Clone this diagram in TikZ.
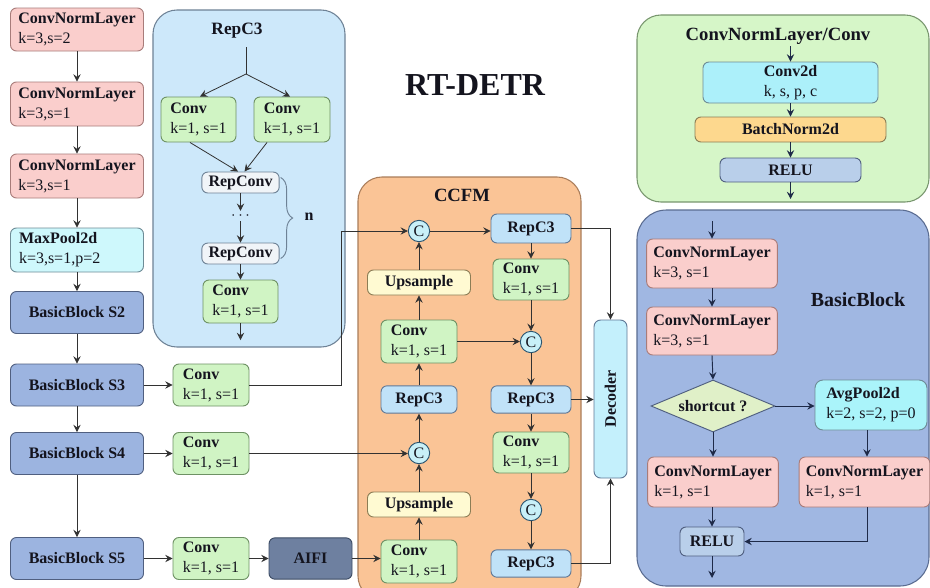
\documentclass[tikz,border=0pt]{standalone}
\usepackage{fontspec}
\setmainfont{Liberation Serif}
\usetikzlibrary{arrows.meta,shapes.geometric,calc,decorations.pathreplacing}

\definecolor{pinkF}{RGB}{250,206,204}
\definecolor{pinkD}{RGB}{168,124,122}
\definecolor{greenF}{RGB}{208,244,196}
\definecolor{greenD}{RGB}{110,145,100}
\definecolor{cyanF}{RGB}{206,248,252}
\definecolor{cyanD}{RGB}{110,140,150}
\definecolor{blueF}{RGB}{156,180,224}
\definecolor{blueD}{RGB}{80,95,128}
\definecolor{aifiF}{RGB}{110,128,160}
\definecolor{aifiD}{RGB}{60,75,100}
\definecolor{repPanelF}{RGB}{205,232,250}
\definecolor{repPanelD}{RGB}{110,130,150}
\definecolor{repConvF}{RGB}{240,244,248}
\definecolor{ccfmF}{RGB}{250,196,150}
\definecolor{ccfmD}{RGB}{170,125,90}
\definecolor{upF}{RGB}{255,250,210}
\definecolor{upD}{RGB}{140,125,85}
\definecolor{rcF}{RGB}{192,226,248}
\definecolor{rcD}{RGB}{95,120,150}
\definecolor{cF}{RGB}{200,240,248}
\definecolor{cD}{RGB}{43,85,112}
\definecolor{decF}{RGB}{196,240,252}
\definecolor{gPanelF}{RGB}{214,246,200}
\definecolor{gPanelD}{RGB}{120,150,110}
\definecolor{c2dF}{RGB}{172,240,250}
\definecolor{bnF}{RGB}{253,216,142}
\definecolor{reluF}{RGB}{185,207,234}
\definecolor{bbPanelF}{RGB}{160,183,226}
\definecolor{bbPanelD}{RGB}{90,108,145}
\definecolor{avgF}{RGB}{170,244,250}
\definecolor{diaF}{RGB}{224,240,200}
\definecolor{lineC}{RGB}{50,50,50}
\definecolor{navyC}{RGB}{30,42,72}
\definecolor{txtC}{RGB}{20,20,30}

\tikzset{
  box/.style={draw, rounded corners=4.5pt, line width=0.7pt, text=txtC,
    font=\fontsize{12}{15}\selectfont, inner sep=0pt, inner xsep=5pt},
  lbox/.style={box, align=left},
  cbox/.style={box, align=center, font=\fontsize{12}{15}\selectfont\bfseries},
  pinkbox/.style={lbox, fill=pinkF, draw=pinkD},
  greenbox/.style={lbox, fill=greenF, draw=greenD},
  cyanbox/.style={lbox, fill=cyanF, draw=cyanD},
  sbox/.style={cbox, fill=blueF, draw=blueD, minimum width=99.75pt, minimum height=31.5pt},
  panel/.style={draw, line width=0.8pt, rounded corners=18pt, inner sep=0pt},
  ptitle/.style={font=\fontsize{14}{16}\selectfont\bfseries, text=txtC, inner sep=1pt},
  cnode/.style={circle, draw=cD, fill=cF, line width=0.7pt, minimum size=16pt, inner sep=0pt,
    font=\fontsize{12}{14}\selectfont, text=txtC},
  rcbox/.style={cbox, fill=rcF, draw=rcD, minimum width=60pt, minimum height=20.5pt},
  upbox/.style={cbox, fill=upF, draw=upD, minimum width=77.25pt, minimum height=18.75pt},
  arr/.style={draw=lineC, line width=0.6pt, -{Stealth[length=5.5pt,width=5.5pt,inset=2pt]}},
  narr/.style={draw=navyC, line width=0.7pt, -{Stealth[length=5.5pt,width=5.5pt,inset=2pt]}},
  plain/.style={draw=lineC, line width=0.6pt},
}

\begin{document}
\begin{tikzpicture}[x=0.75pt, y=-0.75pt]
\fill[white] (0,0) rectangle (930,587);
\useasboundingbox (0,0) rectangle (930,587);

% ---------------- panels ----------------
\node[panel, fill=repPanelF, draw=repPanelD, minimum width=144pt, minimum height=252.75pt] (repPanel) at (249,178.5) {};
\node[panel, fill=ccfmF, draw=ccfmD, minimum width=167.25pt, minimum height=317.25pt] (ccfmPanel) at (469.5,388.5) {};
\node[panel, fill=gPanelF, draw=gPanelD, minimum width=219pt, minimum height=140.25pt] (gPanel) at (783,108.5) {};
\node[panel, fill=bbPanelF, draw=bbPanelD, rounded corners=22pt, minimum width=219pt, minimum height=282pt] (bbPanel) at (783,398) {};

% ---------------- title ----------------
\node[font=\fontsize{24}{28}\selectfont\bfseries, text=txtC] (mainT) at (475,85) {RT-DETR};

% ---------------- backbone ----------------
\node[pinkbox, minimum width=99.75pt, minimum height=32.25pt] (cnl1) at (77,29.5) {\textbf{ConvNormLayer}\\k=3,s=2};
\node[pinkbox, minimum width=99.75pt, minimum height=33pt] (cnl2) at (77,104) {\textbf{ConvNormLayer}\\k=3,s=1};
\node[pinkbox, minimum width=99.75pt, minimum height=33pt] (cnl3) at (77,176) {\textbf{ConvNormLayer}\\k=3,s=1};
\node[cyanbox, minimum width=99.75pt, minimum height=33pt, text width=87pt] (maxp) at (77,250) {\textbf{MaxPool2d}\\k=3,s=1,p=2};
\node[sbox] (s2) at (77,312.5) {BasicBlock S2};
\node[sbox] (s3) at (77,385) {BasicBlock S3};
\node[sbox] (s4) at (77,453.5) {BasicBlock S4};
\node[sbox] (s5) at (77,558.5) {BasicBlock S5};

\node[greenbox, minimum width=57pt, minimum height=31.5pt] (cv3) at (211,385) {\textbf{Conv}\\k=1, s=1};
\node[greenbox, minimum width=57pt, minimum height=31.5pt] (cv4) at (211,453.5) {\textbf{Conv}\\k=1, s=1};
\node[greenbox, minimum width=57pt, minimum height=31.5pt] (cv5) at (211,558.5) {\textbf{Conv}\\k=1, s=1};
\node[cbox, fill=aifiF, draw=aifiD, minimum width=62.25pt, minimum height=31pt] (aifi) at (310.5,558.5) {AIFI};

\draw[arr] (cnl1.south) -- (cnl2.north);
\draw[arr] (cnl2.south) -- (cnl3.north);
\draw[arr] (cnl3.south) -- (maxp.north);
\draw[arr] (maxp.south) -- (s2.north);
\draw[arr] (s2.south) -- (s3.north);
\draw[arr] (s3.south) -- (s4.north);
\draw[arr] (s4.south) -- (s5.north);
\draw[arr] (s3.east) -- (cv3.west);
\draw[arr] (s4.east) -- (cv4.west);
\draw[arr] (s5.east) -- (cv5.west);
\draw[arr] (cv5.east) -- (aifi.west);

% ---------------- RepC3 panel ----------------
\node[ptitle, font=\fontsize{13}{15}\selectfont\bfseries] (repT) at (237,31) {RepC3};
\coordinate (sp0) at (246,47);
\coordinate (sp1) at (246,74);
\node[greenbox, minimum width=56.25pt, minimum height=33.75pt] (convL) at (198.5,119.5) {\textbf{Conv}\\k=1, s=1};
\node[greenbox, minimum width=57pt, minimum height=33.75pt] (convR) at (292,119.5) {\textbf{Conv}\\k=1, s=1};
\node[cbox, fill=repConvF, draw=repPanelD, minimum width=56.25pt, minimum height=15.75pt] (rc1) at (240.5,182.5) {RepConv};
\node[font=\fontsize{12}{14}\selectfont\bfseries, text=txtC, inner sep=1pt] (dots) at (240.5,216) {$\cdots$};
\node[cbox, fill=repConvF, draw=repPanelD, minimum width=56.25pt, minimum height=15.75pt] (rc2) at (240.5,253.5) {RepConv};
\node[greenbox, minimum width=56.25pt, minimum height=32.25pt] (convB) at (240.5,301.5) {\textbf{Conv}\\k=1, s=1};
\coordinate (repOut) at (240.5,340);
\node[font=\fontsize{12}{14}\selectfont\bfseries, text=txtC, inner sep=1pt] (nlab) at (309,217) {n};

\draw[plain] (sp0) -- (sp1);
\draw[arr] (sp1) -- ($(convL.north)+(1.5,0)$);
\draw[arr] (sp1) -- ($(convR.north)+(-2,0)$);
\draw[arr] ($(convL.south)+(-8.5,0)$) -- ($(rc1.north)+(-2.5,0)$);
\draw[arr] ($(convR.south)+(-25,0)$) -- ($(rc1.north)+(4,0)$);
\draw[arr] (rc1.south) -- (dots.north);
\draw[arr] (dots.south) -- (rc2.north);
\draw[arr] (rc2.south) -- (convB.north);
\draw[arr] (convB.south) -- (repOut);
\draw[draw=repPanelD, line width=0.7pt, decorate, decoration={brace, amplitude=9pt, aspect=0.5}] ($(rc1.east)+(1,-5)$) -- ($(rc2.east)+(1,5)$);

% ---------------- CCFM ----------------
\node[ptitle] (ccfmT) at (462,195) {CCFM};
\node[cnode] (c1) at (419,231) {C};
\node[cnode] (c2) at (419,453) {C};
\node[cnode] (c3) at (531,342) {C};
\node[cnode] (c4) at (531,510) {C};
\node[rcbox, minimum height=21.75pt] (rcTop) at (531,228.5) {RepC3};
\node[upbox] (upTop) at (419,282.5) {Upsample};
\node[greenbox, minimum width=57pt, minimum height=32.25pt] (convM) at (419,341.5) {\textbf{Conv}\\k=1, s=1};
\node[rcbox, minimum width=57pt] (rcL) at (419,399.5) {RepC3};
\node[upbox] (upBot) at (419,504.5) {Upsample};
\node[greenbox, minimum width=57pt, minimum height=32.25pt] (convBL) at (419,561.5) {\textbf{Conv}\\k=1, s=1};
\node[greenbox, minimum width=57pt, minimum height=30.75pt] (convR1) at (531,279.5) {\textbf{Conv}\\k=1, s=1};
\node[rcbox] (rcR2) at (531,399.5) {RepC3};
\node[greenbox, minimum width=57pt, minimum height=30.75pt] (convR2) at (531,452.5) {\textbf{Conv}\\k=1, s=1};
\node[rcbox] (rcR3) at (531,563.5) {RepC3};
\node[cbox, fill=decF, draw=rcD, minimum width=24.75pt, minimum height=118.5pt, rounded corners=5pt] (dec) at (610.5,399) {\rotatebox{90}{Decoder}};

\coordinate (k1) at (341,231);
\draw[arr] (cv3.east) -| (k1) -- (c1.west);
\draw[arr] (cv4.east) -- (cv4.east -| c2.west);
\draw[arr] (aifi.east) -- (aifi.east -| convBL.west);
\draw[arr] (convBL.north) -- (upBot.south);
\draw[arr] (upBot.north) -- (c2.south);
\draw[arr] (c2.north) -- (rcL.south);
\draw[arr] (rcL.north) -- (convM.south);
\draw[arr] (convM.north) -- (upTop.south);
\draw[arr] (upTop.north) -- (c1.south);
\draw[arr] (c1.east) -- (c1.east -| rcTop.west);
\draw[arr] (convM.east) -- (convM.east -| c3.west);
\draw[arr] (rcTop.south) -- (convR1.north);
\draw[arr] (convR1.south) -- (c3.north);
\draw[arr] (c3.south) -- (rcR2.north);
\draw[arr] (rcR2.south) -- (convR2.north);
\draw[arr] (convR2.south) -- (c4.north);
\draw[arr] (c4.south) -- (rcR3.north);
\draw[arr] (rcTop.east) -| (dec.north);
\draw[arr] (rcR2.east) -- (rcR2.east -| dec.west);
\draw[arr] (rcR3.east) -| (dec.south);

% ---------------- ConvNormLayer/Conv ----------------
\node[ptitle] (gT) at (778,36) {ConvNormLayer/Conv};
\coordinate (g0) at (790.5,46);
\node[box, align=center, fill=c2dF, draw=cyanD, minimum width=131.25pt, minimum height=30.75pt] (conv2d) at (790.5,82.5) {\textbf{Conv2d}\\k, s, p, c};
\node[cbox, fill=bnF, draw=upD, minimum width=143.25pt, minimum height=18.75pt] (bn) at (790.5,129.5) {BatchNorm2d};
\node[cbox, fill=reluF, draw=blueD, minimum width=105.75pt, minimum height=18pt] (relu1) at (790.5,170) {RELU};
\coordinate (g1) at (790.5,199);
\draw[narr] (g0) -- (conv2d.north);
\draw[narr] (conv2d.south) -- (bn.north);
\draw[narr] (bn.south) -- (relu1.north);
\draw[narr] (relu1.south) -- (g1);

% ---------------- BasicBlock ----------------
\node[ptitle, font=\fontsize{15}{17}\selectfont\bfseries] (bbT) at (858,300) {BasicBlock};
\coordinate (b0) at (712,221);
\node[pinkbox, minimum width=97.5pt, minimum height=36.75pt] (cnlA) at (712,263.5) {\textbf{ConvNormLayer}\\k=3, s=1};
\node[pinkbox, minimum width=97.5pt, minimum height=36pt] (cnlB) at (712,331) {\textbf{ConvNormLayer}\\k=3, s=1};
\node[diamond, draw=blueD, fill=diaF, line width=0.7pt, minimum width=93pt, minimum height=39pt, inner sep=0pt, aspect=2.4,
  font=\fontsize{12}{14}\selectfont\bfseries, text=txtC] (dia) at (713,406) {shortcut ?};
\node[box, align=left, fill=avgF, draw=cyanD, minimum width=84pt, minimum height=37.5pt, rounded corners=6pt] (avg) at (871,405) {\textbf{AvgPool2d}\\k=2, s=2, p=0};
\node[pinkbox, minimum width=97.5pt, minimum height=37.5pt] (cnlC) at (713,482) {\textbf{ConvNormLayer}\\k=1, s=1};
\node[pinkbox, minimum width=96.75pt, minimum height=37.5pt] (cnlD) at (864.5,482) {\textbf{ConvNormLayer}\\k=1, s=1};
\node[cbox, fill=reluF, draw=blueD, minimum width=48pt, minimum height=21.75pt] (relu2) at (712,541.5) {RELU};
\coordinate (b1) at (712,578);

\draw[narr] (b0) -- (cnlA.north);
\draw[narr] (cnlA.south) -- (cnlB.north);
\draw[narr] (cnlB.south) -- (dia.north);
\draw[narr] (dia.east) -- (dia.east -| avg.west);
\draw[narr] ($(avg.south)+(-4,0)$) -- ($(cnlD.north)+(2.5,0)$);
\draw[narr] (dia.south) -- (cnlC.north);
\draw[narr] ($(cnlC.south)+(-1,0)$) -- (relu2.north);
\draw[narr] ($(cnlD.south)+(2.5,0)$) |- (relu2.east);
\draw[narr] (relu2.south) -- (b1);
\end{tikzpicture}
\end{document}
